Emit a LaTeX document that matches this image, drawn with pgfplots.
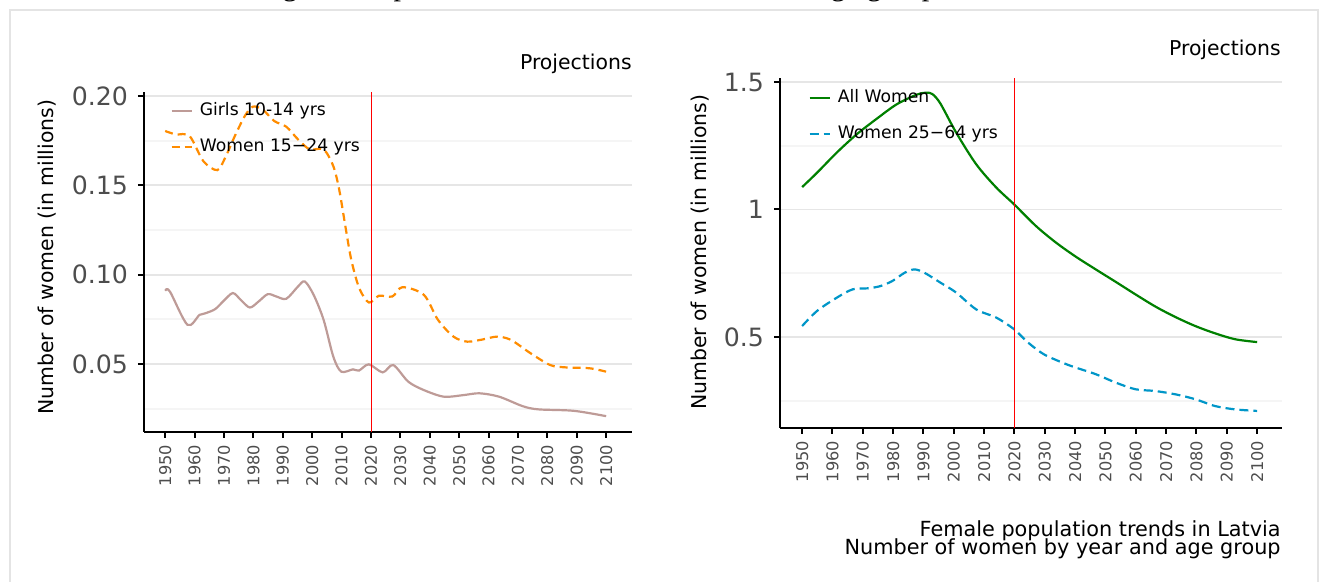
\documentclass[border=0pt]{standalone}
\usepackage{fontspec}
\setmainfont{DejaVu Sans}
\newfontfamily\titlefont{Liberation Serif}
\usepackage{pgfplots}
\pgfplotsset{compat=1.18}

\definecolor{girls}{RGB}{190,155,151}
\definecolor{young}{RGB}{255,140,0}
\definecolor{allw}{RGB}{0,128,0}
\definecolor{mid}{RGB}{0,150,200}
\definecolor{tickgray}{RGB}{77,77,77}
\definecolor{gridmaj}{RGB}{230,230,230}
\definecolor{gridmin}{RGB}{245,245,245}
\definecolor{frame}{RGB}{228,228,228}
\newcommand{\fs}[1]{\fontsize{#1}{#1}\selectfont}

\pgfplotsset{
  panel/.style={
    scale only axis,
    anchor=south west,
    axis x line*=bottom, axis y line*=left,
    axis line style={black, line width=1.1pt},
    tick align=outside,
    major tick length=3pt,
    minor tick length=0pt,
    every tick/.style={black, line width=1pt},
    xtick={1950,1960,...,2100},
    /pgf/number format/1000 sep={},
    /pgf/number format/assume math mode=true,
    xticklabel style={rotate=90, anchor=east, font=\fs{8.1}, text=tickgray},
    yticklabel style={font=\fs{12.6}, text=tickgray, xshift=-1.5pt},
    ymajorgrids, yminorgrids,
    major grid style={gridmaj, line width=0.9pt},
    minor grid style={gridmin, line width=0.9pt},
    legend style={draw=none, fill=none, font=\fs{8.6}, anchor=north west,
      inner sep=0pt, row sep=9.9pt, column sep=3.6pt,
      nodes={inner sep=0pt, text height=6.3pt, text depth=1.8pt}},
    legend cell align=left,
    legend image code/.code={\draw[##1] (0pt,0pt) -- (10pt,0pt);},
  }
}

\begin{document}
\begin{tikzpicture}
\useasboundingbox (0pt,0pt) rectangle (660pt,291pt);
\draw[frame, line width=0.8pt] (5pt,-10pt) -- (5pt,286pt) -- (659pt,286pt) -- (659pt,-10pt);
\node[anchor=base west, inner sep=0pt, font=\titlefont\fs{15}] at (109.5pt,293pt)
  {Change in the past and in the future of all in each age group};

% left panel: younger age groups
\begin{axis}[panel, at={(72pt,75pt)}, width=244pt, height=170pt,
  xmin=1942.8, xmax=2108.8, ymin=0.01194, ymax=0.20224,
  ytick={0.05,0.10,0.15,0.20}, yticklabels={0.05,0.10,0.15,0.20},
  minor ytick={0.025,0.075,0.125,0.175},
  legend style={at={(rel axis cs:0.0533,0.970)}}]
\addplot[girls, line width=1.1pt, smooth, tension=0.5] coordinates {
(1950,0.0910) (1951.6,0.0906) (1957.6,0.0719) (1961.7,0.0775) (1963.7,0.0784)
(1967,0.0807) (1969.7,0.0850) (1973,0.0897) (1975.7,0.0859) (1978.8,0.0816)
(1981.8,0.0850) (1984.9,0.0891) (1987.8,0.0878) (1991.2,0.0865) (1995.2,0.0934)
(1997.5,0.0962) (2000.5,0.0887) (2003.9,0.0747) (2007.2,0.0541) (2009.9,0.0457)
(2013.9,0.0470) (2015.9,0.0463) (2019.3,0.0498) (2024,0.0453) (2027.6,0.0494)
(2032.7,0.0401) (2038,0.0354) (2044.8,0.0317) (2051.5,0.0326) (2056.9,0.0336)
(2063.6,0.0317) (2071.6,0.0264) (2077,0.0246) (2089,0.0238) (2100,0.0208)};
\addlegendentry{Girls 10-14 yrs}
\addplot[young, line width=1.1pt, dash pattern=on 4pt off 2.5pt, smooth, tension=0.5] coordinates {
(1950,0.1804) (1953.6,0.1785) (1958.3,0.1776) (1963,0.1635) (1967.7,0.1585)
(1970.4,0.1654) (1973.7,0.1776) (1977.1,0.1888) (1979.8,0.1940) (1983.1,0.1925)
(1987.1,0.1860) (1991.2,0.1828) (1995.2,0.1757) (1999.2,0.1701) (2003.9,0.1701)
(2007.2,0.1607) (2009.2,0.1476) (2011.3,0.1271) (2013.3,0.1084) (2016,0.0925)
(2019.3,0.0844) (2022.7,0.0882) (2027.3,0.0878) (2030.7,0.0930) (2038,0.0887)
(2042.8,0.0747) (2048.1,0.0653) (2052.8,0.0625) (2058.2,0.0638) (2062.9,0.0653)
(2067.6,0.0635) (2074.3,0.0560) (2081,0.0494) (2086.3,0.0481) (2094.4,0.0476)
(2100,0.0457)};
\addlegendentry{Women 15−24 yrs}
\addplot[red, line width=0.45pt, forget plot] coordinates {(2020,0.01194) (2020,0.20224)};
\end{axis}

% right panel: all women and working ages
\begin{axis}[panel, at={(390pt,77pt)}, width=251pt, height=175pt,
  xmin=1942.7, xmax=2108.2, ymin=0.1431, ymax=1.5157,
  ytick={0.5,1,1.5}, yticklabels={0.5,1,1.5},
  minor ytick={0.25,0.75,1.25},
  legend style={at={(rel axis cs:0.0558,0.966)}, row sep=9.9pt}]
\addplot[allw, line width=1.1pt, smooth, tension=0.5] coordinates {
(1950,1.088) (1954.9,1.144) (1961.4,1.223) (1968,1.295) (1974.6,1.356)
(1981.1,1.412) (1987.7,1.450) (1991,1.458) (1993,1.452) (1995.6,1.415) (2000.8,1.301)
(2007.4,1.177) (2014,1.086) (2019.9,1.020) (2027.1,0.935) (2033.7,0.870)
(2040.2,0.815) (2046.8,0.765) (2053.4,0.716) (2059.9,0.667) (2066.5,0.619)
(2073.1,0.578) (2079.6,0.543) (2086.2,0.514) (2092.8,0.491) (2100,0.480)};
\addlegendentry{All Women}
\addplot[mid, line width=1.1pt, dash pattern=on 4.5pt off 2.5pt, smooth, tension=0.5] coordinates {
(1950,0.543) (1954.9,0.602) (1961.4,0.654) (1966.7,0.687) (1971.9,0.691)
(1975.9,0.700) (1979.8,0.720) (1983.8,0.752) (1987,0.765) (1990.3,0.752)
(1995.6,0.713) (2000.8,0.674) (2007.4,0.608) (2014,0.576) (2019.9,0.530)
(2024.5,0.478) (2029.7,0.432) (2036.3,0.397) (2040.2,0.380) (2046.8,0.354)
(2053.4,0.321) (2059.9,0.295) (2066.5,0.288) (2073.1,0.275) (2079.6,0.256)
(2086.2,0.229) (2092.8,0.216) (2100,0.210)};
\addlegendentry{Women 25−64 yrs}
\addplot[red, line width=0.45pt, forget plot] coordinates {(2020,0.1431) (2020,1.5157)};
\end{axis}

\node[anchor=base east, inner sep=0pt, font=\fs{10.2}] at (316pt,256pt) {Projections};
\node[anchor=base east, inner sep=0pt, font=\fs{10.2}] at (640.5pt,263pt) {Projections};
\node[rotate=90, font=\fs{10.2}] at (23.5pt,162.3pt) {Number of women (in millions)};
\node[rotate=90, font=\fs{10.2}] at (350pt,164.8pt) {Number of women (in millions)};
\node[anchor=base east, inner sep=0pt, font=\fs{10.4}] at (640.5pt,22.7pt) {Female population trends in Latvia};
\node[anchor=base east, inner sep=0pt, font=\fs{10.4}] at (640.5pt,13.5pt) {Number of women by year and age group};
\end{tikzpicture}
\end{document}
